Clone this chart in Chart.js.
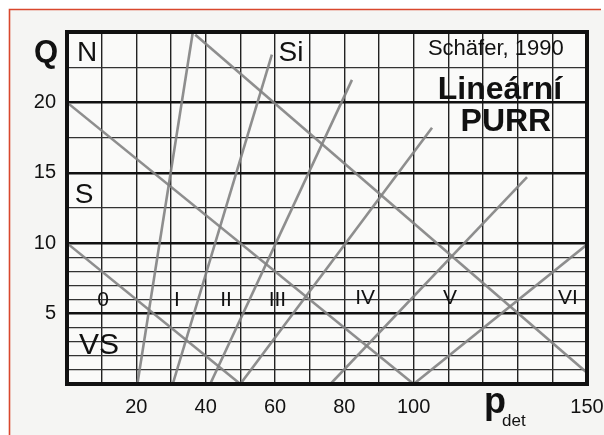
<!DOCTYPE html>
<html>
<head>
<meta charset="utf-8">
<style>
  html, body { margin: 0; padding: 0; background: #ffffff; }
  #wrap { width: 604px; height: 435px; position: relative; }
</style>
<script src="https://cdn.jsdelivr.net/npm/chart.js@4.4.1/dist/chart.umd.min.js"></script>
</head>
<body>
<div id="wrap"><canvas id="c"></canvas></div>
<script>
// ---- data ----
const xTickLabels = [20, 40, 60, 80, 100, 150];
const yTickLabels = [5, 10, 15, 20];
const yGridValues = [0,1,2,3,4,5,6,7,8,9,10,12.5,15,17.5,20,22.5,25];

// falling boundary lines [p, Q]
const fall1 = [[0, 20], [100, 0]];
const fall2 = [[0, 10], [50, 0]];
const fall3 = [[37, 24.8], [150, 0.8]];
// rising PURR lines [p, Q]
const rise1 = [[20.3, 0], [36.3, 25]];
const rise2 = [[30.5, 0], [59.1, 23.4]];
const rise3 = [[41.3, 0], [82.2, 21.6]];
const rise4 = [[50, 0], [105.3, 18.2]];
const rise5 = [[76, 0], [132.7, 14.7]];
const rise6 = [[100, 0], [150, 9.9]];

// text annotations in data units
const regionNames = ['0', 'I', 'II', 'III', 'IV', 'V', 'VI'];
const regionP = [10.4, 31.7, 45.9, 60.7, 86, 110.5, 144.5];
const regionQ = [5.95, 5.95, 5.95, 5.95, 6.1, 6.1, 6.1];
const zoneNames = ['N', 'Si', 'S', 'VS'];
const zoneP = [5.8, 64.6, 4.9, 9.2];
const zoneQ = [23.5, 23.5, 13.4, 2.7];

const allLines = [fall1, fall2, fall3, rise1, rise2, rise3, rise4, rise5, rise6];

const FONT = "'Liberation Sans', Arial, Helvetica, sans-serif";

const datasets = allLines.map(l => ({
  data: l.map(pt => ({ x: pt[0], y: pt[1] })),
  showLine: true,
  borderColor: 'rgba(130,130,130,0.9)',
  borderWidth: 2.6,
  pointRadius: 0,
  fill: false,
  tension: 0
}));

const bgPlugin = {
  id: 'bg',
  beforeDraw(chart) {
    const ctx = chart.ctx;
    ctx.save();
    ctx.fillStyle = '#ffffff';
    ctx.fillRect(0, 0, chart.width, chart.height);
    ctx.fillStyle = '#f5f5f3';
    ctx.fillRect(10, 10, chart.width - 10, chart.height - 10);
    const a = chart.chartArea;
    ctx.fillStyle = '#fafaf9';
    ctx.fillRect(a.left, a.top, a.right - a.left, a.bottom - a.top);
    ctx.strokeStyle = '#d9472d';
    ctx.lineWidth = 1.6;
    ctx.beginPath();
    ctx.moveTo(9.5, chart.height);
    ctx.lineTo(9.5, 9.5);
    ctx.lineTo(601, 9.5);
    ctx.stroke();
    ctx.restore();
  }
};

const textPlugin = {
  id: 'texts',
  afterDatasetsDraw(chart) {
    const ctx = chart.ctx;
    const xs = chart.scales.x, ys = chart.scales.y;
    const a = chart.chartArea;
    ctx.save();
    // frame
    ctx.strokeStyle = '#111';
    ctx.lineWidth = 4;
    ctx.strokeRect(a.left, a.top, a.right - a.left, a.bottom - a.top);

    ctx.fillStyle = '#111';
    ctx.textAlign = 'center';
    ctx.textBaseline = 'middle';

    // region labels
    ctx.font = '21px ' + FONT;
    regionNames.forEach((t, i) => {
      ctx.fillText(t, xs.getPixelForValue(regionP[i]), ys.getPixelForValue(regionQ[i]));
    });
    // zone labels
    const zoneSizes = [28, 28, 28, 30];
    zoneNames.forEach((t, i) => {
      ctx.font = zoneSizes[i] + 'px ' + FONT;
      ctx.fillText(t, xs.getPixelForValue(zoneP[i]), ys.getPixelForValue(zoneQ[i]));
    });
    // titles
    ctx.font = '22px ' + FONT;
    ctx.fillText('Schäfer, 1990', xs.getPixelForValue(123.7), ys.getPixelForValue(23.8));
    ctx.font = 'bold 32px ' + FONT;
    ctx.fillText('Lineární', xs.getPixelForValue(124.9), ys.getPixelForValue(20.9));
    ctx.fillText('PURR', xs.getPixelForValue(126.6), ys.getPixelForValue(18.6));

    // axis titles
    ctx.font = 'bold 31px ' + FONT;
    ctx.fillText('Q', a.left - 21, ys.getPixelForValue(23.5));
    ctx.font = 'bold 36px ' + FONT;
    ctx.textAlign = 'center';
    ctx.textBaseline = 'alphabetic';
    ctx.fillText('p', 495, 413);
    ctx.font = '17px ' + FONT;
    ctx.textAlign = 'left';
    ctx.fillText('det', 502, 426);
    ctx.restore();
  }
};

new Chart(document.getElementById('c'), {
  type: 'scatter',
  data: { datasets },
  plugins: [bgPlugin, textPlugin],
  options: {
    responsive: true,
    maintainAspectRatio: false,
    animation: false,
    events: [],
    layout: { padding: { top: 32, right: 17, left: 0, bottom: 0 } },
    plugins: { legend: { display: false }, tooltip: { enabled: false } },
    scales: {
      x: {
        type: 'linear',
        min: 0, max: 150,
        afterFit(s) { s.height = 51; s.paddingLeft = 0; s.paddingRight = 0; },
        border: { display: false },
        grid: { color: '#222', lineWidth: 1.4, drawTicks: false },
        ticks: {
          stepSize: 10, autoSkip: false, maxRotation: 0, padding: 11,
          color: '#111', font: { family: FONT, size: 20 },
          callback: v => xTickLabels.includes(v) ? String(v) : ''
        }
      },
      y: {
        type: 'linear',
        min: 0, max: 25,
        afterFit(s) { s.width = 67; s.paddingTop = 0; s.paddingBottom = 0; },
        afterBuildTicks(s) { s.ticks = yGridValues.map(v => ({ value: v })); },
        border: { display: false },
        grid: {
          color: ctx => (ctx.tick && ctx.tick.value % 5 === 0) ? '#111' : '#333',
          lineWidth: ctx => (ctx.tick && ctx.tick.value % 5 === 0) ? 2.4 : 1.2,
          drawTicks: false
        },
        ticks: {
          autoSkip: false, padding: 11,
          color: '#111', font: { family: FONT, size: 20 },
          callback: v => yTickLabels.includes(v) ? String(v) : ''
        }
      }
    }
  }
});
</script>
</body>
</html>
